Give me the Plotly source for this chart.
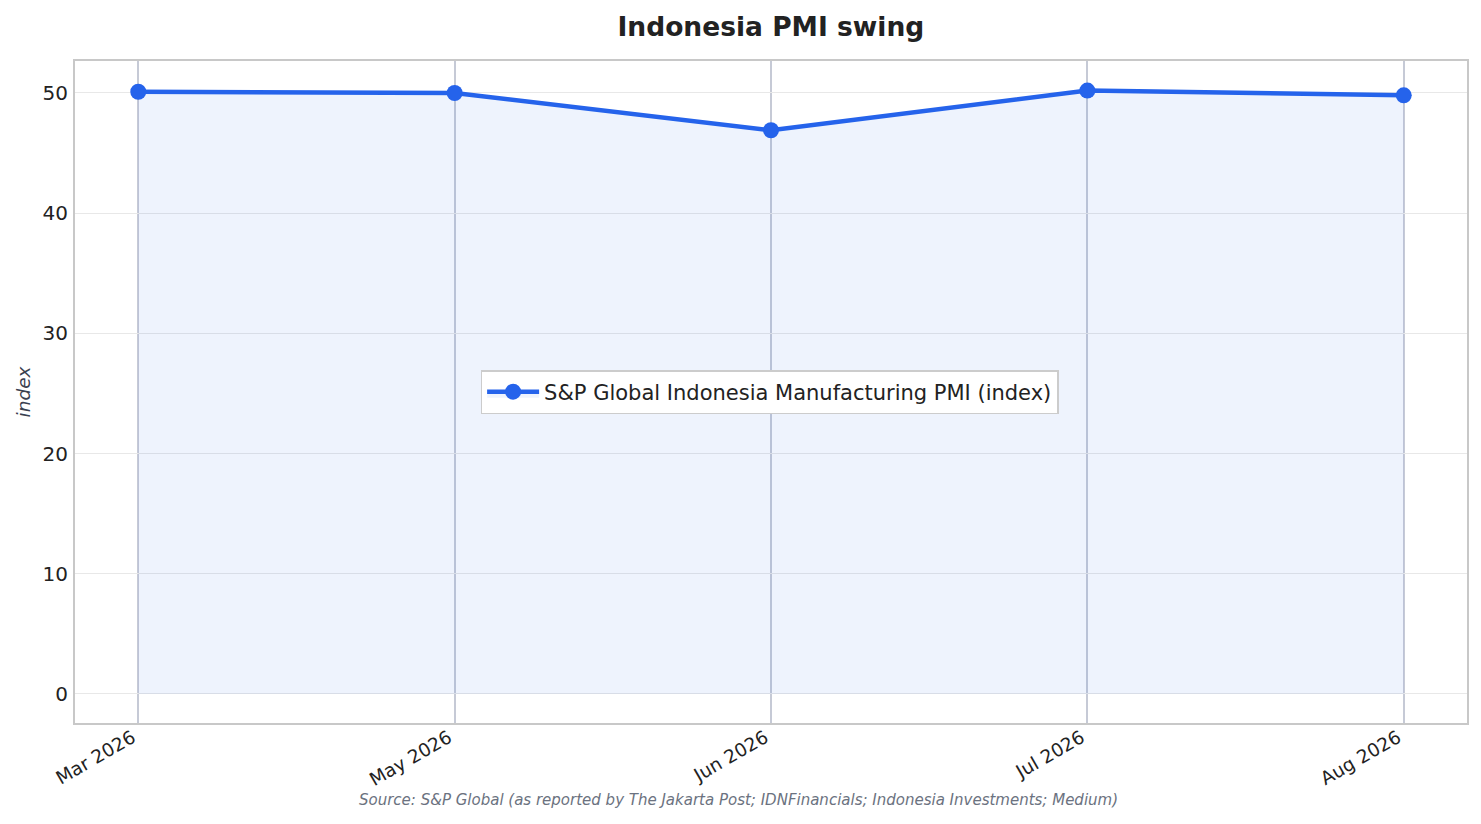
import plotly.graph_objects as go

months = ["Mar 2026", "May 2026", "Jun 2026", "Jul 2026", "Aug 2026"]
pmi = [50.1, 50.0, 46.9, 50.2, 49.8]
series_name = "S&P Global Indonesia Manufacturing PMI (index)"
y_ticks = [0, 10, 20, 30, 40, 50]

FONT = "DejaVu Sans"
BLUE = "#2563eb"

fig = go.Figure()
fig.add_trace(go.Scatter(
    x=months, y=pmi, name=series_name, mode="lines+markers",
    line=dict(color=BLUE, width=4.5),
    marker=dict(color=BLUE, size=16),
    fill="tozeroy", fillcolor="rgba(37,99,235,0.08)",
))

fig.update_layout(
    width=1481, height=824,
    margin=dict(l=75, r=14, t=61, b=101),
    paper_bgcolor="white", plot_bgcolor="white",
    font=dict(family=FONT, color="#222222", size=16),
    title=dict(text="<b>Indonesia PMI swing</b>", x=0.5205, xanchor="center",
               y=0.968, yanchor="middle", font=dict(size=26.5, color="#222222")),
    showlegend=True,
    legend=dict(x=0.499, y=0.5, xanchor="center", yanchor="middle",
                bgcolor="white", bordercolor="#cccccc", borderwidth=1.5,
                itemwidth=52,
                font=dict(size=21, color="#222222")),
    xaxis=dict(type="category", range=[-0.2, 4.2], showgrid=True,
               gridcolor="#c6cad6", gridwidth=2, tickangle=-30,
               tickfont=dict(size=18.5), showline=True, mirror=True,
               linecolor="#c8c8c8", linewidth=2, ticks="",
               ticklabelshift=-6, ticklabelstandoff=-5, zeroline=False),
    yaxis=dict(range=[-2.42, 52.66], tickvals=y_ticks, showgrid=True,
               gridcolor="#e8e8e8", gridwidth=1.4, showline=True, mirror=True,
               linecolor="#c8c8c8", linewidth=2, zeroline=False,
               ticks="", ticklabelstandoff=1,
               tickfont=dict(size=20),
               title=dict(text="<i>index</i>", standoff=7,
                          font=dict(size=18.5, color="#3a4150"))),
    annotations=[dict(
        text="<i>Source: S&P Global (as reported by The Jakarta Post; IDNFinancials; Indonesia Investments; Medium)</i>",
        xref="paper", yref="paper", x=0.477, y=-0.1165,
        xanchor="center", yanchor="middle", showarrow=False,
        font=dict(size=15, color="#6b7280"))],
)

fig.write_html("out.html", config={"displayModeBar": False},
               post_script="document.body.style.margin='0';document.body.style.overflow='hidden';")
